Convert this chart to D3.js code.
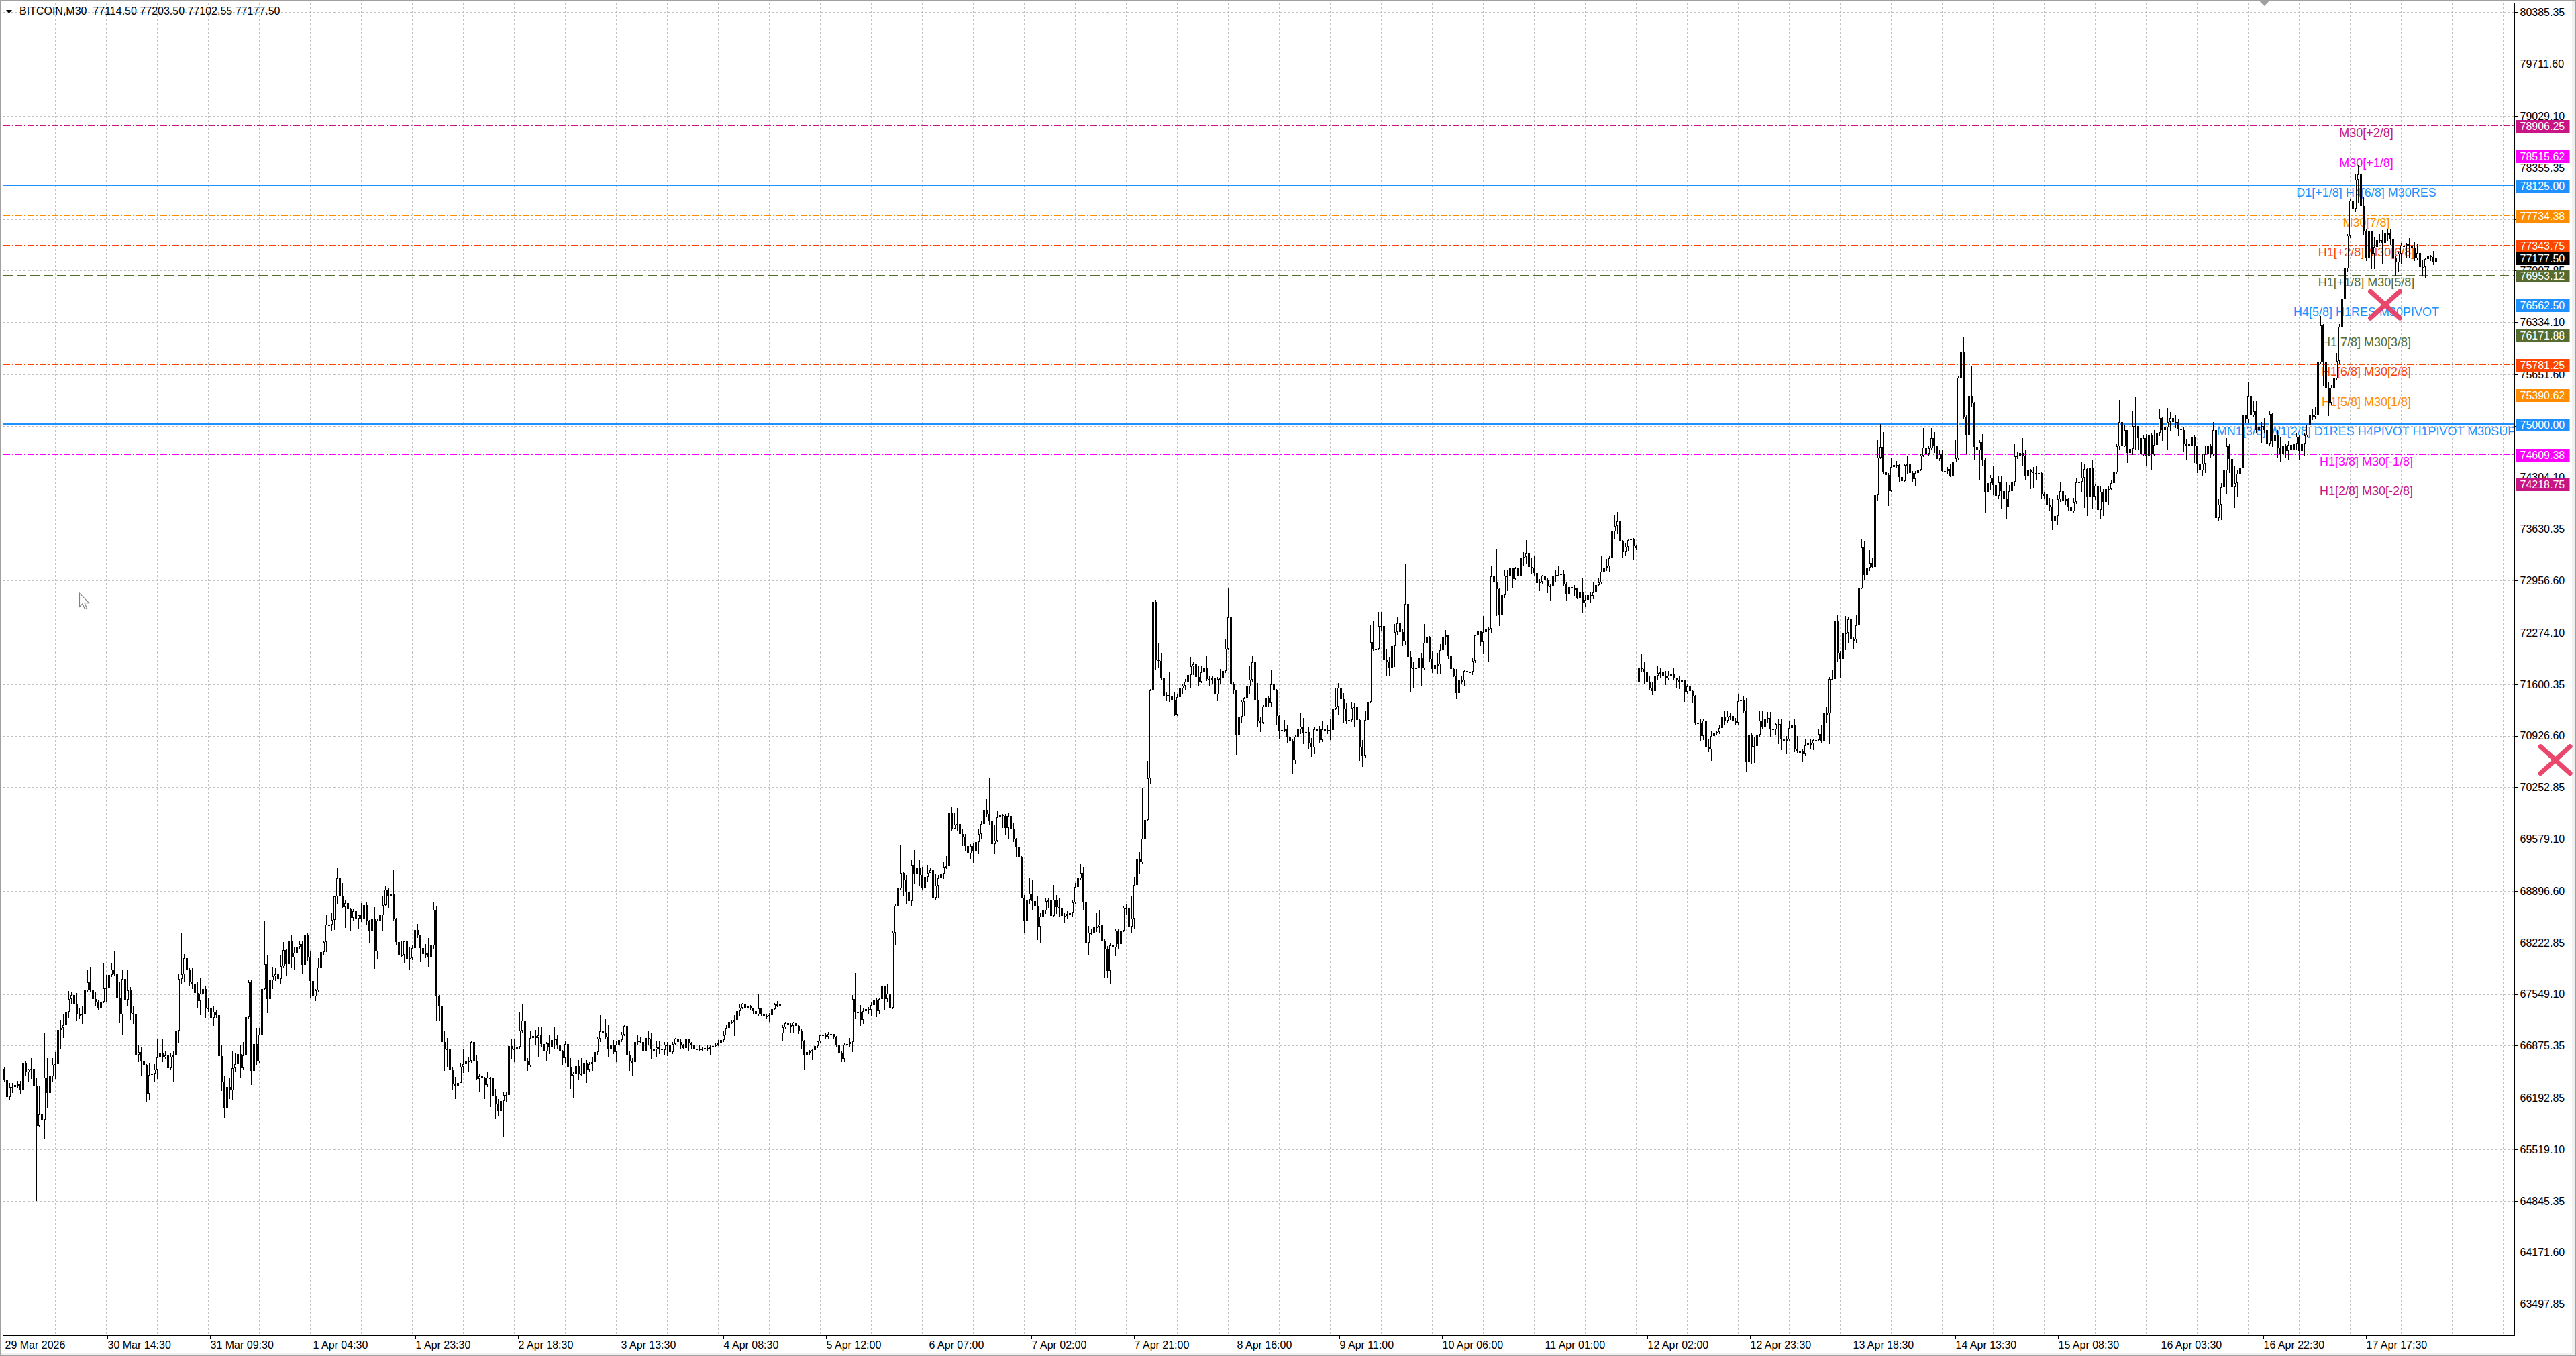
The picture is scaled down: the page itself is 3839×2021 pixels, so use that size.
<!DOCTYPE html>
<html>
<head>
<meta charset="utf-8">
<script src="https://cdn.jsdelivr.net/npm/d3@7/dist/d3.min.js"></script>
<style>
  html, body { margin: 0; padding: 0; background: #fff; overflow: hidden; }
</style>
</head>
<body>
<div id="chart"></div>
<script>
// BITCOIN M30 bars. Open of a bar is the previous close,
// except for the bars listed in gapOpens.
const closes = [
66433,66205,66333,66339,66361,66371,66292,66653,66527,66565,66568,66355,65822,65979,65901,66455,66255,66474,66628,66631,
67085,67107,67138,67320,67483,67536,67426,67285,67273,67295,67596,67702,67599,67483,67436,67358,67451,67624,67633,67796,
67874,67812,67489,67279,67749,67473,67599,67301,67295,66756,66794,66668,66615,66245,66496,66512,66559,66721,66772,66725,
66747,66584,66731,66747,67076,67749,67806,68022,67874,67712,67686,67561,67458,67552,67614,67373,67373,67239,67320,67273,
66737,66393,66057,66339,66292,66584,66631,66762,66584,66747,67248,67702,66543,66897,66668,67022,67614,67937,67483,67733,
67780,67812,67749,67912,68125,67943,68235,68031,68088,68172,68203,67928,68319,68025,67718,67520,67602,67900,68094,68229,
68454,68460,68517,68830,69065,68830,68683,68742,68664,68548,68636,68539,68579,68539,68711,68510,68376,68539,68110,68507,
68579,68711,68915,68839,68861,68526,68229,68062,68062,68241,68009,68016,68147,68392,
68318,68149,68076,68085,68032,68184,68650,67520,
67389,66927,66839,66839,66550,66374,66342,66389,66599,66637,66681,66681,66927,66681,66438,66473,66453,66359,66459,66453,
66219,66117,66023,66155,66234,66234,66868,66827,66839,66862,67076,67204,66664,66614,66973,67003,66979,67008,66897,66804,
66906,66856,66950,66965,66877,66798,66716,66897,66599,66488,66511,66605,66511,66511,66643,66564,66634,66658,66789,66965,
67061,67047,66994,66827,66886,66789,66886,66950,67023,67131,66751,66672,66658,66927,66944,66927,66804,66979,66965,66827,
66827,66856,66833,66818,66886,66886,66789,66897,66965,66921,66886,66848,66956,66906,66892,66833,66839,66833,66839,66848,
66833,66856,66868,66886,66906,66950,67014,67111,67184,67184,67213,67330,67374,67424,67359,67394,67359,67330,67286,67365,
67295,67266,67266,67278,67351,67412,67412,67394,67120,67169,67140,67131,67178,67131,67073,66935,66760,66789,66804,66818,
66868,66935,67008,67023,66994,67032,67032,
66995,66887,66780,66706,66887,66900,66922,67482,67318,67310,67210,67327,67353,67340,67405,67469,67327,67482,67654,67482,
67555,67374,68352,68705,68934,69136,69042,68891,68761,69235,69119,69192,69106,68934,69085,69136,69171,68805,68964,69063,
69128,69214,69222,69925,69709,69765,69774,69645,69601,69481,69386,69481,69421,69537,69645,69774,69959,69903,69817,69515,
69558,69860,69894,69882,69722,69882,69709,69580,69472,69343,68813,68503,68783,68860,68761,68705,68430,68559,68645,68761,
68774,68576,68783,68688,68675,68576,68576,68602,68611,68748,68947,69063,69136,68748,68223,68352,68352,68430,68430,68460,
68244,68137,67857,68188,68158,68382,68201,68382,68675,68675,68430,68533,68977,69309,69278,69580,69825,70368,71518,72682,
71919,71906,71678,71445,71454,71445,71389,71204,71432,71549,71583,71635,71721,71833,71863,71691,71635,71755,71807,71669,
71669,71678,71463,71669,71678,71777,72066,72479,71605,71518,70937,71174,71368,71411,71575,
71658,71892,71395,71117,71096,71307,71424,71351,71599,71526,71184,70985,70999,71014,70912,70854,70605,70912,71009,71050,
70956,70977,70839,70775,71014,71009,70874,71009,70999,70999,70999,71284,71313,71556,71409,71284,71117,71137,71292,71307,
71131,70786,70658,71137,71371,72155,72061,72061,72360,72365,71927,71892,71819,72096,72286,72395,72286,72161,72652,71956,
71819,71819,71819,71950,71810,72140,72219,71936,71804,71857,71862,72044,72219,72237,71974,71798,71716,71482,71652,71652,
71775,71760,71769,71906,72237,72301,72155,72286,72324,72324,73009,72944,72842,72506,72769,73017,73017,73120,72979,73114,
73009,73251,73266,73319,73134,73126,73055,72921,72939,73017,72968,72886,72886,73009,73032,73032,73047,72915,72775,72871,
72857,72857,72734,72804,72658,72705,72769,72754,72798,72900,72930,73076,73126,73143,73251,73602,73670,73728,73477,73339,
73398,73485,73506,73406,73383,71819,71804,71760,71629,71556,71512,71716,71746,71760,71716,
71677,71717,71737,71677,71658,71638,71650,71499,71570,71507,71439,71102,71094,70923,71121,70784,70744,70923,70954,70974,
71030,71173,71121,71181,71189,71121,71102,71380,71399,71260,70585,70943,70784,70792,70943,71121,71042,71141,71161,71022,
71014,71082,71082,70883,70871,70875,71030,71062,70744,70724,70724,70685,70804,70823,70823,70871,70871,70950,70863,71221,
71221,71665,71665,72432,72007,71936,72273,72273,72452,72182,72182,72373,72857,73385,73028,73127,73187,73135,74073,74565,
74708,74378,74339,74128,74438,74470,74470,74311,74259,74470,74478,74359,74287,74359,74406,74589,74696,74617,74684,74815,
74716,74549,74605,74390,74390,74418,74327,74498,74557,75610,75947,75093,74855,75371,75272,74708,74656,74764,74537,74112,
74231,74299,74200,74061,74239,74128,74021,73914,74128,74247,74577,74589,74629,74577,74319,74398,74378,74359,74359,74359,
74081,74081,73942,73914,73731,73803,74021,74128,74001,74021,73914,73862,73981,74239,74247,
74304,74419,74055,74436,74055,74193,73881,74117,73985,74152,74152,74228,74367,74714,75026,74714,74921,74627,74679,74974,
74974,74818,74610,74818,74592,74852,74610,74731,74887,75078,74922,74957,75026,75078,75026,75026,74939,74922,74741,74741,
74714,74835,74714,74488,74401,74488,74610,74714,74610,74922,73777,73951,74176,74401,74714,74547,74176,74228,74349,74436,
75113,75060,75373,75113,75165,74922,74957,74974,74922,74748,75130,74783,74852,74696,74610,74721,74651,74731,74662,74748,
74835,74651,74748,74852,74991,75113,75095,75123,75806,76292,75806,75477,75286,75477,75598,75824,76275,76639,77038,77471,
77922,77818,78199,78269,77853,77523,77176,77523,77228,77315,77419,77419,77367,77495,77495,77426,77176,77114,77228,77332,
77332,77357,77332,77298,77169,77239,77055,77055,77159,77204,77183,77114.5,77177.5
];

const highs = [
66590,66496,66386,66386,66433,66418,66418,66737,66668,66574,66715,66574,66449,66355,66104,67038,66715,66668,66715,66794,
67420,67210,67295,67514,67593,67577,67680,67561,67364,67389,67608,67865,67906,67640,67577,67467,67514,67953,67796,67953,
67953,68110,67984,67702,67874,67843,67859,67640,67389,67380,66881,66856,66762,66637,66643,66606,66637,66957,66957,66957,
66806,66778,66772,66809,67279,67818,68354,68072,68047,67890,67890,67843,67702,67758,67718,67655,67499,67467,67389,67342,
67273,66888,66480,66449,66449,66809,66778,66856,66888,66919,67389,67733,67733,67248,67107,67107,67953,68511,68053,67906,
67906,67897,67915,68062,68229,68141,68329,68323,68172,68313,68250,68235,68344,68344,68110,67733,67614,68015,68172,68250,
68579,68736,68611,68836,69206,69306,69002,68783,68752,68673,68658,68736,68586,68736,68742,68752,68517,68573,68689,68529,
68673,68830,68971,68940,68996,69168,68548,68250,68250,68250,68250,68157,68188,68479,
68471,68318,68237,68207,68280,68237,68760,68700,
67535,67389,67067,66979,66935,66599,66468,66482,66643,66827,66693,66731,66935,66935,66745,66511,66506,66468,66526,66468,
66468,66307,66175,66190,66272,66272,67096,66965,66965,66965,67307,67418,67266,66716,67067,67102,67082,67120,67126,66935,
66927,67008,67023,67126,67008,67023,66818,66935,66935,66716,66541,66760,66687,66716,66693,66687,66658,66731,66891,66994,
67278,67307,67228,67155,66950,66950,66935,66979,67052,67149,67389,66804,66716,67008,67008,66985,66979,66985,67073,67044,
66848,66935,66935,66877,66921,66927,66927,66927,66979,66971,66965,66897,66965,66965,66927,66906,66862,66892,66862,66868,
66877,66877,66892,66906,66950,66979,67067,67140,67272,67213,67272,67564,67424,67432,67520,67403,67403,67374,67374,67549,
67374,67301,67286,67301,67447,67432,67462,67403,67155,67184,67184,67169,67184,67184,67140,67096,66950,66833,66818,66833,
66892,66935,67023,67052,67038,67052,67155,
67017,67004,66887,66801,66909,66930,66974,67534,67827,67405,67405,67362,67405,67383,67448,67568,67491,67491,67706,67598,
67684,67814,68374,68718,69106,69502,69149,69106,68934,69300,69429,69235,69300,69214,69222,69235,69192,69352,69128,69106,
69214,69278,69352,70299,69989,69925,69981,69782,69709,69645,69558,69515,69524,69645,69709,69817,69989,70097,70377,69825,
69752,69946,69946,69903,69903,69925,70011,69795,69593,69494,69352,68848,68826,69063,69042,68934,68826,68611,68718,68805,
68805,68891,68977,68848,68805,68688,68611,68632,68654,68783,68998,69257,69257,69214,68805,68438,68395,68447,68611,68654,
68611,68266,68180,68223,68231,68395,68395,68404,68697,68718,68697,68826,69085,69537,69408,70239,69903,70601,71540,72725,
72703,72135,72014,71691,71497,71755,71518,71506,71475,71562,71605,71669,71863,71962,71885,71906,71842,71842,71842,71971,
71712,71712,71691,71691,71799,71885,72186,72854,72617,71626,71475,71238,71389,71432,71691,
71833,71980,71898,71614,71175,71336,71468,71439,71781,71693,71541,71205,71131,71131,71073,70933,70883,70933,71067,71225,
71161,71073,71044,70898,71050,71102,71058,71117,71131,71073,71146,71395,71547,71614,71585,71482,71351,71175,71366,71351,
71389,71146,70874,71254,71380,72374,72424,72082,72550,72550,72365,72067,71956,72126,72389,72482,72740,72316,73172,72658,
72038,71892,71892,72038,72009,72389,72336,72228,72038,71950,72009,72126,72301,72307,72243,71994,71819,71804,71664,71716,
71781,71833,71819,71944,72243,72316,72266,72491,72336,72345,73149,73208,73368,72851,72798,73091,73091,73208,73126,73134,
73295,73310,73324,73485,73368,73251,73281,73061,72974,73032,73032,72988,72915,73017,73096,73149,73126,73091,72930,72886,
72886,72900,72798,72827,72988,72769,72822,72798,72944,72944,72988,73272,73164,73243,73281,73778,73822,73851,73748,73485,
73441,73500,73632,73515,73427,72023,71994,71898,71775,71716,71629,71731,71833,71810,71746,
71777,71777,71817,71817,71677,71717,71737,71638,71598,71578,71519,71459,71141,71141,71141,71141,70883,70982,71002,70990,
71062,71240,71260,71260,71221,71221,71161,71479,71459,71439,71411,70962,70962,70903,71002,71260,71252,71240,71240,71240,
71062,71102,71141,71141,70923,70923,71121,71141,71141,70923,70903,70744,70883,70883,70883,70883,70935,71022,71070,71260,
71300,71697,71785,72452,72500,72035,72293,72492,72472,72472,72214,72512,72869,73505,73465,73266,73358,73246,74081,74796,
75002,74895,74617,74359,74557,74486,74517,74478,74339,74486,74589,74498,74390,74390,74418,74617,74954,74756,74716,74946,
74895,74716,74656,74668,74418,74438,74478,74517,74796,75630,75955,76138,75113,75391,75757,75292,75014,74796,74875,74557,
74438,74339,74458,74339,74327,74319,74247,74247,74200,74319,74736,74644,74835,74815,74656,74438,74418,74438,74458,74478,
74378,74112,74120,74041,74021,73842,74073,74239,74180,74073,74041,74239,74041,74299,74299,
74506,74488,74436,74547,74540,74211,74193,74193,74152,74176,74193,74270,74471,74748,75321,75095,74991,74852,74748,75182,
75366,74956,74887,74852,74870,74922,74887,74922,75286,75199,75095,75060,75217,75158,75165,75113,75060,75060,74956,74800,
74835,74870,74852,74714,74575,74610,74714,74766,74748,75026,75043,74020,74228,74488,74818,74748,74575,74453,74401,74540,
75147,75113,75546,75390,75303,75303,75060,75026,75078,75060,75182,75147,75009,74922,74835,74783,74748,74783,74783,74835,
74887,74852,74800,74887,74998,75130,75199,75234,75893,76413,76309,75893,75546,75511,75633,75928,76309,76691,77055,77488,
77939,78130,78269,78390,78321,77974,77558,77540,77436,77454,77488,77488,77540,77593,77558,77558,77436,77194,77246,77367,
77384,77367,77436,77384,77384,77350,77253,77142,77176,77315,77211,77263,77203.5
];

const lows = [
66418,66110,66173,66261,66308,66339,66245,66292,66480,66418,66449,66324,64851,65822,65753,65672,66073,66214,66418,66449,
66621,66840,66982,67029,67248,67420,67342,67201,67232,67170,67264,67577,67577,67436,67405,67342,67311,67436,67451,67608,
67780,67796,67389,67185,67029,67389,67405,67217,67170,66606,66668,66496,66449,66151,66173,66411,66411,66449,66668,66668,
66700,66308,66559,66411,66731,66919,67686,67718,67765,67671,67624,67451,67373,67279,67483,67248,67326,67044,67138,67248,
66612,66292,65932,66026,66183,66173,66549,66606,66455,66574,66715,67232,66371,66543,66637,66653,66888,67608,67311,67420,
67624,67733,67624,67686,67906,67796,67937,67906,67874,67984,68141,67828,67890,67984,67514,67514,67467,67593,67843,68062,
68110,68015,68392,68398,68742,68752,68673,68423,68523,68376,68517,68485,68407,68501,68548,68470,68219,68172,67890,68022,
68501,68392,68705,68673,68673,68517,68203,67884,68047,67969,67959,67874,68000,68141,
68295,67973,68047,68032,67915,67959,68150,67213,
67213,66687,66550,66599,66482,66307,66190,66219,66447,66526,66570,66541,66658,66643,66430,66272,66351,66190,66342,66079,
66102,65927,65970,65883,65687,66146,66219,66702,66672,66716,66848,67052,66643,66550,66599,66775,66891,66731,66862,66687,
66687,66775,66804,66833,66833,66702,66628,66658,66409,66321,66199,66424,66438,66482,66482,66400,66541,66555,66570,66760,
66935,67023,66979,66740,66804,66775,66672,66818,66935,67008,66745,66555,66497,66628,66891,66915,66789,66775,66891,66716,
66798,66740,66775,66745,66760,66745,66775,66775,66886,66886,66848,66833,66833,66818,66848,66818,66818,66818,66818,66833,
66818,66760,66833,66862,66877,66897,66935,67096,67067,67169,67008,67169,67272,67359,67345,67272,67345,67301,67242,67272,
67272,67155,67242,67199,67272,67345,67389,67383,66950,67111,67126,67052,67052,67082,67038,66848,66570,66745,66760,66693,
66810,66856,66921,66965,66979,66979,66979,
66974,66866,66672,66672,66672,66844,66866,66801,67232,67275,67146,67168,67297,67297,67275,67383,67254,67297,67448,67340,
67448,67254,67362,68201,68688,68921,68848,68740,68697,68705,68990,69042,68977,68912,68921,69020,69149,68783,68792,68805,
68921,69063,69192,69214,69688,69709,69688,69610,69494,69421,69308,69321,69270,69149,69386,69580,69645,69882,69774,69235,
69386,69550,69817,69731,69645,69580,69580,69550,69343,69300,68805,68352,68460,68740,68654,68611,68266,68231,68503,68611,
68675,68524,68567,68611,68567,68417,68481,68546,68589,68567,68740,68934,69042,68654,68171,68059,68331,68094,68374,68361,
68201,67771,67771,67684,68137,68051,68145,68180,68374,68589,68331,68352,68417,68964,69128,69257,69537,69817,70312,71109,
71799,71820,71669,71389,71389,71368,71152,71195,71195,71195,71475,71540,71669,71562,71734,71648,71583,71626,71734,71648,
71583,71605,71432,71389,71605,71562,71755,72057,71475,71475,70679,70915,71109,71195,71389,
71482,71643,71380,71058,70985,71088,71234,71307,71307,71482,71073,70898,70956,70985,70839,70810,70436,70576,70898,70956,
70824,70927,70766,70664,70693,70898,70839,70854,70956,70956,70883,70985,71278,71205,71322,71102,71088,71088,71117,71058,
71044,70611,70532,70649,70956,71366,72038,71710,72053,72301,71731,71716,71716,71746,71833,72257,72126,72111,72126,71950,
71512,71556,71556,71804,71593,71789,72111,71906,71760,71746,71746,71746,72038,72126,71944,71746,71702,71418,71468,71605,
71593,71746,71716,71731,71892,72155,72111,72009,72184,71898,72286,72827,72506,72374,72374,72740,72827,72944,72863,72974,
72988,72915,73149,73178,73032,73047,73017,72798,72827,72915,72886,72798,72696,72871,72944,73017,73003,72900,72696,72769,
72710,72769,72725,72725,72550,72623,72652,72681,72725,72784,72900,72915,73061,73091,73076,73222,73506,73573,73441,73260,
73289,73354,73412,73243,73368,71380,71775,71614,71599,71541,71468,71430,71658,71687,71658,
71598,71658,71677,71658,71558,71546,71558,71380,71479,71459,71360,71082,71062,70863,70883,70704,70724,70605,70903,70943,
70962,71022,71082,71102,71141,71102,71082,71082,71260,71241,70466,70446,70565,70585,70565,70923,71022,70962,71102,70923,
70962,70943,70823,70744,70704,70696,70863,71002,70724,70704,70665,70593,70665,70744,70764,70744,70764,70863,70843,70823,
71102,70823,71658,71638,71896,71689,71697,72055,72154,72075,72063,72154,72293,72849,72968,73008,73087,73127,73127,74001,
74557,74359,74168,73942,74120,74259,74438,74259,74220,74247,74359,74279,74259,74192,74279,74398,74577,74486,74597,74676,
74637,74486,74525,74378,74359,74359,74319,74319,74517,74537,75391,75074,74617,74835,75232,74537,74637,74279,74458,73842,
73902,74140,74081,73981,74041,73902,73902,73771,73981,74140,74200,74557,74565,74458,74279,74160,74160,74180,74279,74220,
74041,74041,73902,73882,73624,73524,73691,73993,73981,73961,73882,73803,73842,73969,74200,
74124,73916,73812,74055,73899,74020,73604,73777,73812,73916,73951,74141,74193,74349,74679,74471,74714,74506,74488,74610,
74679,74679,74575,74592,74471,74558,74402,74592,74714,74852,74783,74852,74679,74922,74974,74957,74852,74852,74644,74540,
74575,74644,74506,74367,74315,74332,74367,74540,74575,74592,73292,73742,73760,73916,74089,74367,74089,73916,74055,74332,
74384,75026,75026,75060,75095,74887,74748,74766,74887,74714,74731,74714,74696,74575,74523,74523,74575,74540,74558,74644,
74679,74540,74627,74592,74835,74974,75060,75078,75095,75789,75511,75251,75113,75269,75407,75581,75789,76118,76604,77003,
77454,77697,77783,77905,77731,77488,77142,77159,77038,77038,77159,77384,77107,77280,77402,77350,76934,76951,77003,77107,
77003,77176,77176,77159,77142,77149,76951,76951,76916,77159,77142,77090,77102.55
];

// [bar index, open] where the open is not the previous close
const gapOpens = [[0, 66574], [290, 67038], [609, 71629]];

const yTickLabels = ['80385.35','79711.60','79029.10','78355.35','77681.60','77007.85','76334.10','75651.60',
  '74977.85','74304.10','73630.35','72956.60','72274.10','71600.35','70926.60','70252.85','69579.10','68896.60',
  '68222.85','67549.10','66875.35','66192.85','65519.10','64845.35','64171.60','63497.85'];

const xTickLabels = ['29 Mar 2026','30 Mar 14:30','31 Mar 09:30','1 Apr 04:30','1 Apr 23:30','2 Apr 18:30',
  '3 Apr 13:30','4 Apr 08:30','5 Apr 12:00','6 Apr 07:00','7 Apr 02:00','7 Apr 21:00','8 Apr 16:00','9 Apr 11:00',
  '10 Apr 06:00','11 Apr 01:00','12 Apr 02:00','12 Apr 23:30','13 Apr 18:30','14 Apr 13:30','15 Apr 08:30',
  '16 Apr 03:30','16 Apr 22:30','17 Apr 17:30'];

const levelPrices = [78906.25, 78515.62, 78125.00, 77734.38, 77343.75, 76953.12, 76562.50,
  76171.88, 75781.25, 75390.62, 75000.00, 74609.38, 74218.75];
const levelNames = ['M30[+2/8]', 'M30[+1/8]', 'D1[+1/8] H4[6/8] M30RES', 'M30[7/8]', 'H1[+2/8] M30[6/8]',
  'H1[+1/8] M30[5/8]', 'H4[5/8] H1RES M30PIVOT', 'H1[7/8] M30[3/8]', 'H1[6/8] M30[2/8]', 'H1[5/8] M30[1/8]',
  'MN1[3/8] W1[2/8] D1RES H4PIVOT H1PIVOT M30SUP', 'H1[3/8] M30[-1/8]', 'H1[2/8] M30[-2/8]'];

// chart markers (bar index, price)
const crossMarks = [[887, 76562.5], [950.4, 70610]];
const cursorAt = [28, 72790];
const shiftBar = 842;

// ---- styles, kept apart from the data ----
const DASHDOT = '10,3,2,3';
const DASH = '14,6';
const levelStyles = [
  { color: '#C71585', dash: DASHDOT, width: 1 },
  { color: '#FF00FF', dash: DASHDOT, width: 1 },
  { color: '#1E90FF', dash: null, width: 1 },
  { color: '#FF8C00', dash: DASHDOT, width: 1 },
  { color: '#FF4500', dash: DASHDOT, width: 1 },
  { color: '#556B2F', dash: DASH, width: 1 },
  { color: '#1E90FF', dash: DASH, width: 1 },
  { color: '#556B2F', dash: DASHDOT, width: 1 },
  { color: '#FF4500', dash: DASHDOT, width: 1 },
  { color: '#FF8C00', dash: DASHDOT, width: 1 },
  { color: '#1E90FF', dash: null, width: 2 },
  { color: '#FF00FF', dash: DASHDOT, width: 1 },
  { color: '#C71585', dash: DASHDOT, width: 1 }
];

function drawChart() {
  const W = 3839, H = 2021;
  const plot = { left: 4.5, top: 4.5, right: 3747.5, bottom: 1990.5 };
  const uiFont = '"Liberation Sans", Arial, sans-serif';
  const barStep = 4;
  const gridBars = 19;
  const labelBars = 38.25;   // time labels sit every 153 px
  const n = closes.length;

  const svg = d3.select('#chart')
    .append('svg')
    .attr('width', W)
    .attr('height', H)
    .attr('viewBox', `0 0 ${W} ${H}`)
    .style('display', 'block');

  svg.append('rect').attr('width', W).attr('height', H).attr('fill', '#fff');

  svg.append('clipPath').attr('id', 'plot-clip')
    .append('rect')
    .attr('x', plot.left).attr('y', plot.top)
    .attr('width', plot.right - plot.left).attr('height', plot.bottom - plot.top);

  const x = d3.scaleLinear()
    .domain([0, n - 1])
    .range([6.5, 6.5 + (n - 1) * barStep]);

  const y = d3.scaleLinear()
    .domain([63497.85, 80385.35])
    .range([1943.4, 18.4]);

  const py = v => Math.round(y(v)) + 0.5;

  const bars = closes.map((c, i) => {
    const g = gapOpens.find(d => d[0] === i);
    return { i, o: g ? g[1] : closes[i - 1], h: highs[i], l: lows[i], c };
  });

  const inner = svg.append('g').attr('clip-path', 'url(#plot-clip)');

  // grid
  const grid = inner.append('g')
    .attr('stroke', '#C0C0C0')
    .attr('stroke-width', 1)
    .attr('stroke-dasharray', '3,3')
    .attr('shape-rendering', 'crispEdges');

  grid.selectAll('line.h')
    .data(yTickLabels.map(Number))
    .enter()
    .append('line')
    .attr('x1', plot.left).attr('x2', plot.right)
    .attr('y1', d => py(d)).attr('y2', d => py(d));

  grid.selectAll('line.v')
    .data(d3.range(gridBars, x.invert(plot.right), gridBars))
    .enter()
    .append('line')
    .attr('x1', d => x(d)).attr('x2', d => x(d))
    .attr('y1', plot.top).attr('y2', plot.bottom);

  // level lines
  const levels = levelPrices.map((p, k) => ({ p, name: levelNames[k], s: levelStyles[k] }));

  inner.append('g')
    .attr('shape-rendering', 'crispEdges')
    .selectAll('line')
    .data(levels)
    .enter()
    .append('line')
    .attr('x1', plot.left).attr('x2', plot.right)
    .attr('y1', d => d.s.width === 2 ? Math.round(y(d.p)) : py(d.p))
    .attr('y2', d => d.s.width === 2 ? Math.round(y(d.p)) : py(d.p))
    .attr('stroke', d => d.s.color)
    .attr('stroke-width', d => d.s.width)
    .attr('stroke-dasharray', d => d.s.dash);

  // bid line
  const last = bars[n - 1];
  inner.append('line')
    .attr('x1', plot.left).attr('x2', plot.right)
    .attr('y1', py(last.c)).attr('y2', py(last.c))
    .attr('stroke', '#C0C0C0')
    .attr('shape-rendering', 'crispEdges');

  // level captions
  const captionX = x(880);
  inner.append('g')
    .selectAll('text')
    .data(levels)
    .enter()
    .append('text')
    .attr('x', captionX)
    .attr('y', d => y(d.p) + 17)
    .attr('text-anchor', 'middle')
    .attr('fill', d => d.s.color)
    .style('font-family', uiFont)
    .style('font-size', '18px')
    .text(d => d.name);

  // candles
  const cg = inner.append('g').attr('shape-rendering', 'crispEdges');

  cg.selectAll('line.wick')
    .data(bars)
    .enter()
    .append('line')
    .attr('x1', d => x(d.i)).attr('x2', d => x(d.i))
    .attr('y1', d => Math.round(y(d.h)))
    .attr('y2', d => Math.round(y(d.l)) + 1)
    .attr('stroke', '#000');

  cg.selectAll('rect.body')
    .data(bars)
    .enter()
    .append('rect')
    .attr('x', d => x(d.i) - 1)
    .attr('y', d => Math.round(y(Math.max(d.o, d.c))) + 0.5)
    .attr('width', 2)
    .attr('height', d => Math.max(1, Math.round(y(Math.min(d.o, d.c))) - Math.round(y(Math.max(d.o, d.c))) - 1))
    .attr('fill', d => d.c < d.o ? '#000' : '#fff')
    .attr('stroke', '#000');

  // frame
  svg.append('rect')
    .attr('x', 1).attr('y', 2017).attr('width', W - 2).attr('height', 3)
    .attr('fill', '#F0F0F0');
  svg.append('rect')
    .attr('x', W - 6).attr('y', 1).attr('width', 5).attr('height', H - 2)
    .attr('fill', '#F0F0F0');
  svg.append('rect')
    .attr('x', 0.5).attr('y', 0.5).attr('width', W - 1).attr('height', H - 1)
    .attr('fill', 'none').attr('stroke', '#A0A0A0');
  svg.append('rect')
    .attr('x', plot.left).attr('y', plot.top)
    .attr('width', plot.right - plot.left).attr('height', plot.bottom - plot.top)
    .attr('fill', 'none').attr('stroke', '#000')
    .attr('shape-rendering', 'crispEdges');

  // right price axis
  const ax = svg.append('g');
  yTickLabels.forEach(t => {
    const v = Number(t);
    ax.append('line')
      .attr('x1', plot.right).attr('x2', plot.right + 4)
      .attr('y1', py(v)).attr('y2', py(v))
      .attr('stroke', '#000').attr('shape-rendering', 'crispEdges');
    ax.append('text')
      .attr('x', plot.right + 8)
      .attr('y', y(v))
      .attr('dy', '0.36em')
      .attr('fill', '#000')
      .style('font-family', uiFont)
      .style('font-size', '16px')
      .text(t);
  });

  const tags = levels.map(d => ({ p: d.p, color: d.s.color }))
    .concat([{ p: last.c, color: '#000' }]);

  const tag = ax.selectAll('g.tag')
    .data(tags)
    .enter()
    .append('g');
  tag.append('rect')
    .attr('x', plot.right + 2)
    .attr('y', d => Math.round(y(d.p)) - 8)
    .attr('width', 80)
    .attr('height', 19)
    .attr('fill', d => d.color);
  tag.append('text')
    .attr('x', plot.right + 8)
    .attr('y', d => Math.round(y(d.p)) + 1.5)
    .attr('dy', '0.36em')
    .attr('fill', '#fff')
    .style('font-family', uiFont)
    .style('font-size', '16px')
    .text(d => d.p.toFixed(2));

  // bottom time axis
  const tx = svg.append('g');
  xTickLabels.forEach((t, k) => {
    const xx = Math.round(x(k * labelBars)) + 0.5;
    tx.append('line')
      .attr('x1', xx).attr('x2', xx)
      .attr('y1', plot.bottom).attr('y2', plot.bottom + 4)
      .attr('stroke', '#000').attr('shape-rendering', 'crispEdges');
    tx.append('text')
      .attr('x', xx)
      .attr('y', 2010)
      .attr('fill', '#000')
      .style('font-family', uiFont)
      .style('font-size', '16px')
      .text(t);
  });

  // header
  svg.append('path')
    .attr('d', 'M9,15 L18,15 L13.5,20 Z')
    .attr('fill', '#000');
  svg.append('text')
    .attr('x', 29)
    .attr('y', 22)
    .attr('fill', '#000')
    .style('font-family', uiFont)
    .style('font-size', '16px')
    .style('white-space', 'pre')
    .text(`BITCOIN,M30  ${last.o.toFixed(2)} ${last.h.toFixed(2)} ${last.l.toFixed(2)} ${last.c.toFixed(2)}`);

  // chart shift marker
  const sx = x(shiftBar);
  svg.append('path')
    .attr('d', `M${sx - 7},2 L${sx + 7},2 L${sx},9 Z`)
    .attr('fill', '#A0A0A0');

  // mouse pointer
  const cx = x(cursorAt[0]), cy = y(cursorAt[1]);
  svg.append('path')
    .attr('d', `M${cx},${cy} l0,20 l4.5,-4.5 l3.5,8 l3,-1.3 l-3.5,-7.7 l6.5,0 Z`)
    .attr('fill', '#fff')
    .attr('stroke', '#808080')
    .attr('stroke-width', 1.2);

  // red crosses
  crossMarks.forEach(m => {
    const mx = x(m[0]), my = y(m[1]);
    const g = svg.append('g')
      .attr('stroke', '#E8385F')
      .attr('stroke-width', 7)
      .attr('stroke-linecap', 'round')
      .attr('opacity', 0.92);
    g.append('line').attr('x1', mx - 22).attr('y1', my - 20).attr('x2', mx + 22).attr('y2', my + 20);
    g.append('line').attr('x1', mx - 22).attr('y1', my + 20).attr('x2', mx + 22).attr('y2', my - 20);
  });
}

drawChart();
</script>
</body>
</html>
